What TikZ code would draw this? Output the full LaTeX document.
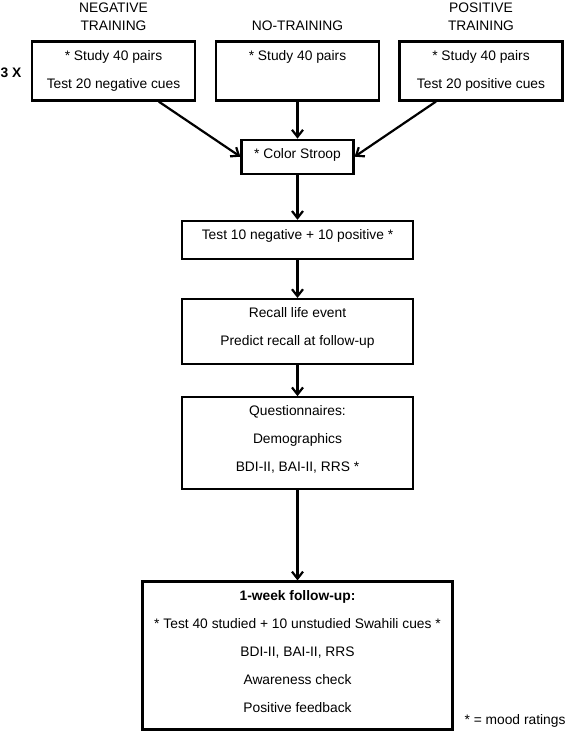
\documentclass[tikz,border=0pt]{standalone}
\usepackage{fontspec}
\setmainfont{Liberation Sans}
\usetikzlibrary{arrows.meta,positioning}

\begin{document}
\begin{tikzpicture}[
  x=1pt,y=1pt,
  font=\fontsize{13.8}{28}\selectfont,
  stage/.style={draw,line width=2.2pt,align=center,inner xsep=2pt,inner ysep=8.5pt,
                minimum width=#1},
  head/.style={align=center,font=\fontsize{13.8}{18}\selectfont},
  every path/.style={-{Straight Barb[length=7pt,width=11pt]},line width=2.2pt}
]
\useasboundingbox (0,0) rectangle (567,-739);

\node[head] (negh) at (113.5,-17) {NEGATIVE\\TRAINING};
\node[head] (noneh) at (297.5,-26) {NO-TRAINING};
\node[head] (posh) at (481,-17) {POSITIVE\\TRAINING};
\node[font=\fontsize{13.8}{18}\selectfont\bfseries] (reps) at (11,-73) {3 X};

\node[stage=163pt,text height=38pt,text depth=4pt] (neg) at (113.5,-71) {* Study 40 pairs\\Test 20 negative cues};
\node[stage=163pt,text height=38pt,text depth=4pt] (none) at (297.5,-71) {* Study 40 pairs\\\strut};
\node[stage=163pt,text height=38pt,text depth=4pt] (pos) at (481,-71) {* Study 40 pairs\\Test 20 positive cues};

\node[stage=112pt,text height=10pt,text depth=7pt,below=37pt of none] (stroop) {* Color Stroop};
\node[stage=231pt,text height=10pt,text depth=11pt,below=45pt of stroop] (test) {Test 10 negative + 10 positive *};
\node[stage=231pt,text height=38pt,text depth=10pt,below=38pt of test] (recall) {Recall life event\\Predict recall at follow-up};
\node[stage=231pt,text height=66pt,text depth=9pt,below=31pt of recall] (quest) {Questionnaires:\\Demographics\\BDI-II, BAI-II, RRS *};
\node[stage=310pt,text height=122pt,text depth=9pt,below=90pt of quest] (follow) {\textbf{1-week follow-up:}\\* Test 40 studied + 10 unstudied Swahili cues *\\BDI-II, BAI-II, RRS\\Awareness check\\Positive feedback};

\node (mood) at (515,-721) {* = mood ratings};

\draw (neg) -- (stroop.west); \draw (none) -- (stroop); \draw (pos) -- (stroop.east);
\draw (stroop) -- (test); \draw (test) -- (recall); \draw (recall) -- (quest); \draw (quest) -- (follow);
\end{tikzpicture}
\end{document}
